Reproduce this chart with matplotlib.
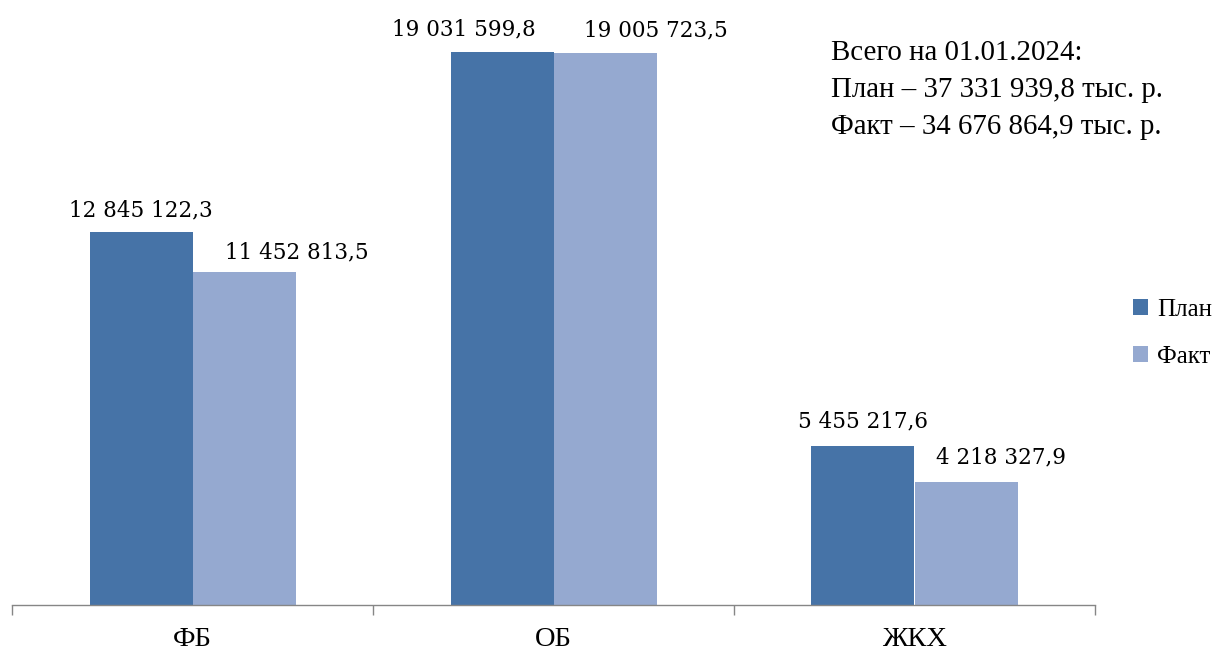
import matplotlib
matplotlib.use("Agg")
import matplotlib.pyplot as plt
import numpy as np

categories = ["ФБ", "ОБ", "ЖКХ"]
plan = [12845122.3, 19031599.8, 5455217.6]
fact = [11452813.5, 19005723.5, 4218327.9]
plan_labels = ["12 845 122,3", "19 031 599,8", "5 455 217,6"]
fact_labels = ["11 452 813,5", "19 005 723,5", "4 218 327,9"]
series_names = ["План", "Факт"]
note_lines = ["Всего на 01.01.2024:",
              "План – 37 331 939,8 тыс. р.",
              "Факт – 34 676 864,9 тыс. р."]

# label horizontal shifts (category units) and vertical offsets (points)
plan_dx = [0.0, -0.105, 0.0]
fact_dx = [0.147, 0.141, 0.097]
plan_dy = [15, 16, 18]
fact_dy = [14.5, 16, 18]

c_plan = "#4673a7"
c_fact = "#95a9d0"

W, H = 1225, 650
fig = plt.figure(figsize=(W / 100, H / 100), dpi=100)
ax = fig.add_axes([12 / W, (H - 605) / H, (1095 - 12) / W, 605 / H])

x = np.arange(len(categories))
bw = 103 / 361
ax.bar(x - bw / 2, plan, bw, color=c_plan, label=series_names[0])
ax.bar(x + bw / 2, fact, bw, color=c_fact, label=series_names[1])

ax.set_xlim(-0.5, len(categories) - 0.5)
ax.set_ylim(0, 20.82e6)

for s in ["top", "right", "left"]:
    ax.spines[s].set_visible(False)
ax.spines["bottom"].set_color("#868686")
ax.spines["bottom"].set_linewidth(1.0)
ax.set_yticks([])
ax.set_xticks(np.arange(len(categories) + 1) - 0.5, minor=True)
ax.set_xticks(x)
ax.set_xticklabels(categories, fontsize=20.5, family="Liberation Serif")
ax.tick_params(axis="x", which="major", length=0, pad=15.5)
ax.tick_params(axis="x", which="minor", length=7, color="#868686", width=1.0)

lab_font = dict(fontsize=15.5, family="DejaVu Serif", ha="center", va="center")
for i in range(len(categories)):
    ax.annotate(plan_labels[i], (x[i] - bw / 2 + plan_dx[i], plan[i]),
                xytext=(0, plan_dy[i]), textcoords="offset points", **lab_font)
    ax.annotate(fact_labels[i], (x[i] + bw / 2 + fact_dx[i], fact[i]),
                xytext=(0, fact_dy[i]), textcoords="offset points", **lab_font)

fig.text(831 / W, 1 - 90 / H, "\n".join(note_lines), fontsize=20.8,
         family="Liberation Serif", ha="left", va="center", linespacing=1.55)

leg = fig.legend(loc="center left", bbox_to_anchor=(1133 / W, 1 - 333 / H),
                 frameon=False, prop={"family": "Liberation Serif", "size": 18},
                 handlelength=0.6, handleheight=0.6, handletextpad=0.35,
                 labelspacing=1.0, borderaxespad=0, borderpad=0)

fig.savefig("out.png", dpi=100)
